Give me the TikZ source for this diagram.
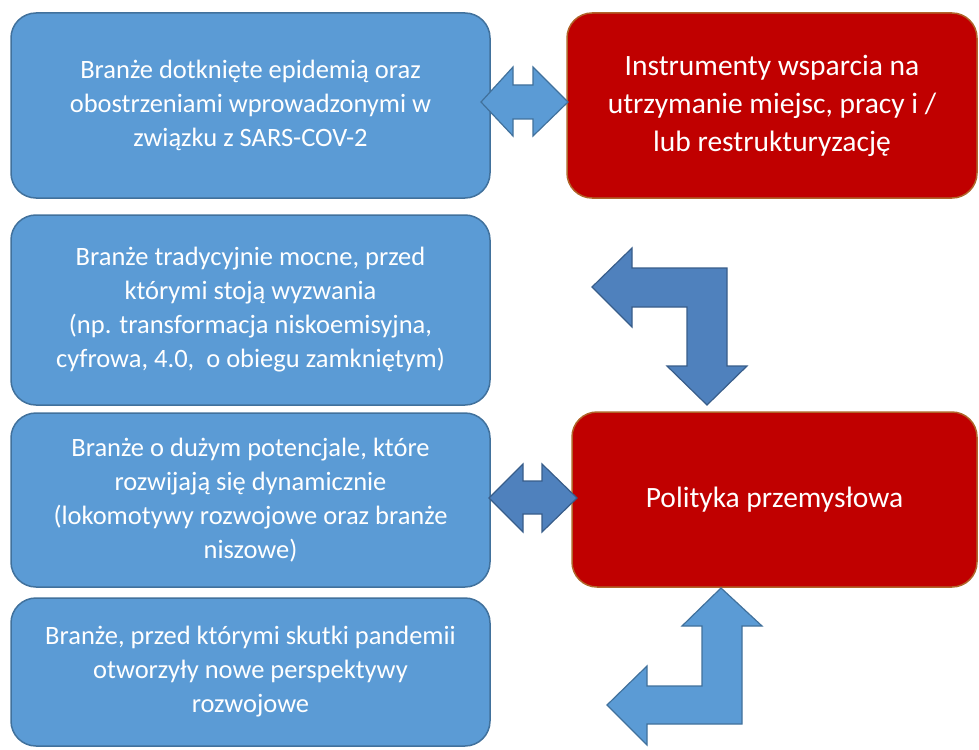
\documentclass[tikz,border=0pt]{standalone}
\usepackage{fontspec}
\setmainfont{Carlito}
\definecolor{lblue}{HTML}{5B9BD5}
\definecolor{lblueb}{HTML}{41719C}
\definecolor{dblue}{HTML}{4F81BD}
\definecolor{dblueb}{HTML}{385D8A}
\definecolor{rfill}{HTML}{C00000}
\definecolor{rborder}{HTML}{B0652A}
\tikzset{
  bluebox/.style={draw=lblueb, fill=lblue, line width=1.5pt, rounded corners=25pt,
    text=white, align=center, font=\fontsize{26.5}{34}\selectfont, inner sep=0pt},
  redbox/.style={draw=rborder, fill=rfill, line width=1.5pt, rounded corners=25pt,
    text=white, align=center, inner sep=0pt, font=\fontsize{29.5}{38}\selectfont},
  larrow/.style={draw=lblueb, fill=lblue, line width=1.2pt, line join=miter},
  darrow/.style={draw=dblueb, fill=dblue, line width=1.2pt, line join=miter},
}
\begin{document}
\begin{tikzpicture}[x=1pt,y=-1pt]
\useasboundingbox (0,0) rectangle (979,749);
% boxes
\node[bluebox, minimum width=479pt, minimum height=185pt] (b1) at (250.5,105.5)
  {Branże dotknięte epidemią oraz\\obostrzeniami wprowadzonymi w\\związku z SARS-COV-2};
\node[redbox, minimum width=410pt, minimum height=185pt] (r1) at (772,105.5)
  {Instrumenty wsparcia na\\utrzymanie miejsc, pracy i /\\lub restrukturyzację};
\node[bluebox, minimum width=479pt, minimum height=190pt] (b2) at (250.5,310)
  {Branże tradycyjnie mocne, przed\\którymi stoją wyzwania\\(np. transformacja niskoemisyjna,\\cyfrowa, 4.0,\ \ o obiegu zamkniętym)};
\node[bluebox, minimum width=479pt, minimum height=174pt] (b3) at (250.5,500)
  {Branże o dużym potencjale, które\\rozwijają się dynamicznie\\(lokomotywy rozwojowe oraz branże\\niszowe)};
\node[redbox, minimum width=405pt, minimum height=175pt] (r2) at (774.5,499.5)
  {Polityka przemysłowa};
\node[bluebox, minimum width=479pt, minimum height=148pt] (b4) at (250.5,672)
  {Branże, przed którymi skutki pandemii\\otworzyły nowe perspektywy\\rozwojowe};
% double arrow top
\draw[larrow] (481,102) -- (513,67) -- (513,85) -- (533,85) -- (533,67) -- (568,102)
  -- (533,136) -- (533,119) -- (513,119) -- (513,136) -- cycle;
% double arrow middle
\draw[darrow] (489,498) -- (523,464) -- (523,481) -- (542,481) -- (542,464) -- (577,498)
  -- (542,532) -- (542,514) -- (523,514) -- (523,532) -- cycle;
% bent arrow upper
\draw[darrow] (592,287) -- (632,248) -- (632,268) -- (727,268) -- (727,366) -- (747,366)
  -- (707,405) -- (667,366) -- (687,366) -- (687,307) -- (632,307) -- (632,327) -- cycle;
% bent arrow lower
\draw[larrow] (721,588) -- (762,626) -- (742,626) -- (742,724) -- (647,724) -- (647,745)
  -- (607,705) -- (647,666) -- (647,686) -- (702,686) -- (702,626) -- (682,626) -- cycle;
\end{tikzpicture}
\end{document}
